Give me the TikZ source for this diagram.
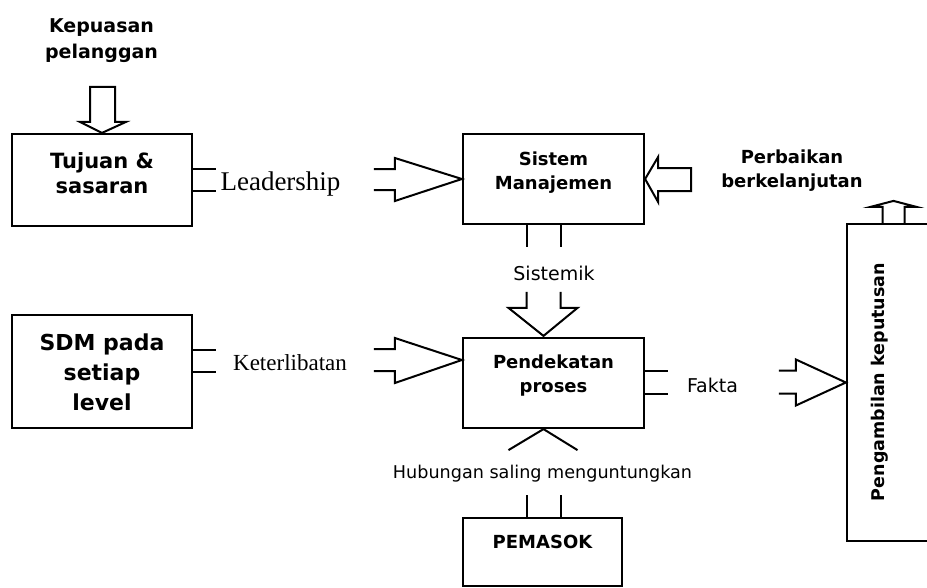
\documentclass[tikz,border=0pt]{standalone}
\usepackage{fontspec}
\setmainfont{DejaVu Sans}
\newfontfamily\timesfont{Liberation Serif}
\tikzset{
    box/.style = {rectangle, draw=black, line width=2.2pt, inner sep=0pt, align=center},
    fat/.style = {line width=2pt, line join=miter},
    lbl/.style = {anchor=base, inner sep=0pt, align=center}
}

\begin{document}
\begin{tikzpicture}[x=1pt, y=-1pt]
\useasboundingbox (0,0) rectangle (927,587);

% Boxes
\node (tujuan) [box, minimum width=180pt, text height=59pt, text depth=33pt, font=\bfseries\fontsize{21}{25}\selectfont] at (102,180) {Tujuan \&\\sasaran};
\node (sistem) [box, minimum width=181pt, text height=55pt, text depth=35pt, font=\bfseries\fontsize{18}{24}\selectfont] at (553.5,179) {Sistem\\Manajemen};
\node (sdm) [box, minimum width=180pt, text height=95pt, text depth=18pt, font=\bfseries\fontsize{22}{30}\selectfont] at (102,371.5) {SDM pada\\setiap\\level};
\node (proses) [box, minimum width=181pt, text height=54pt, text depth=36pt, font=\bfseries\fontsize{18}{24}\selectfont] at (553.5,383) {Pendekatan\\proses};
\node (pemasok) [box, minimum width=159pt, text height=30pt, text depth=38pt, font=\bfseries\fontsize{18}{24}\selectfont] at (542.5,552) {PEMASOK};
\node (keputusan) [box, minimum width=113pt, minimum height=317pt] at (903.5,382.5) {};
\node (keputusanText) [rotate=90, inner sep=0pt, font=\bfseries\fontsize{17.5}{21}\selectfont] at (880,382) {Pengambilan keputusan};

% Labels
\node (kepuasan) [lbl, font=\bfseries\fontsize{19}{26}\selectfont] at (101.5,58) {Kepuasan\\pelanggan};
\node (perbaikan) [lbl, font=\bfseries\fontsize{18}{24}\selectfont] at (792,187) {Perbaikan\\berkelanjutan};
\node (leadership) [lbl, font=\timesfont\fontsize{27}{30}\selectfont] at (280.5,190) {Leadership};
\node (keterlibatan) [lbl, font=\timesfont\fontsize{23}{28}\selectfont] at (290,370) {Keterlibatan};
\node (sistemik) [lbl, font=\fontsize{19}{23}\selectfont] at (554,280) {Sistemik};
\node (fakta) [lbl, font=\fontsize{19}{23}\selectfont] at (712.5,392) {Fakta};
\node (hubungan) [lbl, font=\fontsize{17.6}{21}\selectfont] at (542.5,478) {Hubungan saling menguntungkan};

% Hollow arrows
\draw [fat] (tujuan.north) -- ++(-22,-11) -- ++(10,0) -- ++(0,-35) -- ++(25,0) -- ++(0,35) -- ++(11,0) -- cycle;
\draw [fat] (tujuan.east) ++(0,-11) -- ++(23,0);
\draw [fat] (tujuan.east) ++(0,11) -- ++(23,0);
\draw [fat] (sistem.west) ++(-88,-10) -- ++(21,0) -- ++(0,-11) -- ++(67,21) -- ++(-67,22) -- ++(0,-11) -- ++(-21,0);
\draw [fat] (sistem.east) -- ++(13,-22) -- ++(0,11) -- ++(33,0) -- ++(0,23) -- ++(-33,0) -- ++(0,11) -- cycle;
\draw [fat] (sistem.south) ++(-27,0) -- ++(0,22);
\draw [fat] (sistem.south) ++(7,0) -- ++(0,22);
\draw [fat] (proses.north) ++(-27,-45) -- ++(0,16) -- ++(-18,0) -- ++(35,28) -- ++(34,-28) -- ++(-17,0) -- ++(0,-16);
\draw [fat] (sdm.east) ++(0,-22) -- ++(23,0);
\draw [fat] (sdm.east) -- ++(23,0);
\draw [fat] (proses.west) ++(-88,-34) -- ++(21,0) -- ++(0,-11) -- ++(67,22) -- ++(-67,23) -- ++(0,-12) -- ++(-21,0);
\draw [fat] (proses.east) ++(0,-12) -- ++(23,0);
\draw [fat] (proses.east) ++(0,11) -- ++(23,0);
\draw [fat] (keputusan.west) ++(-67,-12) -- ++(17,0) -- ++(0,-11) -- ++(50,23) -- ++(-50,23) -- ++(0,-12) -- ++(-17,0);
\draw [fat] (proses.south) ++(-45,21) -- ++(35,-21) -- ++(34,21);
\draw [fat] (pemasok.north) ++(-16,0) -- ++(0,-22);
\draw [fat] (pemasok.north) ++(18,0) -- ++(0,-22);
\draw [fat] (keputusan.north) ++(-21,0) -- ++(0,-16) -- ++(-12,0) -- ++(23,-6) -- ++(23,6) -- ++(-12,0) -- ++(0,16);

\end{tikzpicture}
\end{document}
